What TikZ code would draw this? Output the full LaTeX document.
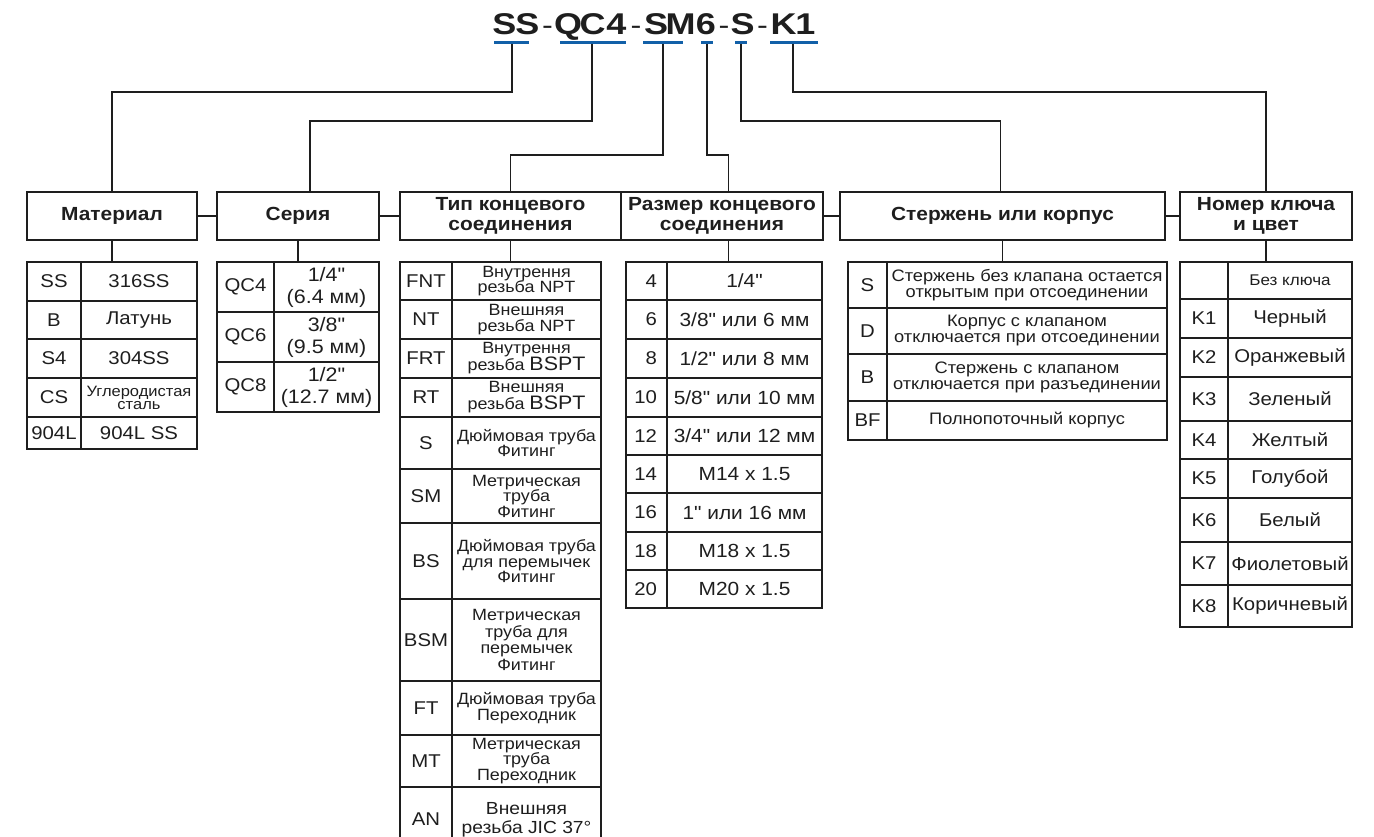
\documentclass[tikz,border=0pt]{standalone}
\usepackage{fontspec}
\setmainfont{Liberation Sans}[FakeStretch=1.1, Ligatures=TeXOff]
\newfontfamily\titlefont{Liberation Sans}[FakeStretch=1.2]
\usetikzlibrary{calc}
\definecolor{ublue}{RGB}{18,96,168}
\definecolor{ink}{RGB}{30,30,30}
\newcommand\fsz[2]{\fontsize{#1}{#2}\selectfont}
\newcommand\inch{\char34\relax}
\tikzset{
  box/.style={draw=ink, line width=1.3pt, inner sep=0pt, outer sep=0pt, text=ink, align=center},
  conn/.style={draw=ink, line width=1.4pt},
  uline/.style={draw=ublue, line width=3.6pt},
  tch/.style={anchor=base, inner sep=0pt, text=ink, font=\titlefont\bfseries\fsz{30}{30}},
  tdash/.style={tch, font=\titlefont\fsz{27}{27}},
}
% name, x1, y1, x2, y2, font, text
\newcommand\cell[7]{%
  \node[box, font=#6, minimum width={(#4-#2)*1pt}, minimum height={(#5-#3)*1pt}]
    (#1) at ({(#2+#4)/2},{(#3+#5)/2}) {#7};}
\newcommand\rcode[1]{\hbox to 21pt{\hss #1}}
\begin{document}
\begin{tikzpicture}[x=1pt,y=-1pt]
\useasboundingbox (0,0) rectangle (1374,837);
% ---------- title ----------
\node[tch] (t1) at (504.5,35) {S};
\node[tch] (t2) at (527.5,35) {S};
\node[tdash] (t3) at (547.5,35) {-};
\node[tch] (t4) at (568,35) {Q};
\node[tch] (t5) at (592.5,35) {C};
\node[tch] (t6) at (616.5,35) {4};
\node[tdash] (t7) at (636,35) {-};
\node[tch] (t8) at (656,35) {S};
\node[tch] (t9) at (680.5,35) {M};
\node[tch] (t10) at (706,35) {6};
\node[tdash] (t11) at (724,35) {-};
\node[tch] (t12) at (742.5,35) {S};
\node[tdash] (t13) at (762.5,35) {-};
\node[tch] (t14) at (783.5,35) {K};
\node[tch] (t15) at (805.5,35) {1};
% underlines
\draw[uline] (494,42.5) -- (529,42.5);
\draw[uline] (560,42.5) -- (626,42.5);
\draw[uline] (643,42.5) -- (683,42.5);
\draw[uline] (701,42.5) -- (713,42.5);
\draw[uline] (735,42.5) -- (747,42.5);
\draw[uline] (770,42.5) -- (818,42.5);
\coordinate (u1) at (512,44);
\coordinate (u2) at (592,44);
\coordinate (u3) at (663,44);
\coordinate (u4) at (707,44);
\coordinate (u5) at (741,44);
\coordinate (u6) at (793,44);
% ---------- headers ----------
\def\hf{\bfseries\fsz{19}{20}}
\cell{mat}{27}{192}{197}{240}{\hf}{Материал}
\cell{ser}{217}{192}{379}{240}{\hf}{Серия}
\cell{tip}{400}{192}{621}{240}{\hf}{Тип концевого\\соединения}
\cell{raz}{621}{192}{823}{240}{\hf}{Размер концевого\\соединения}
\cell{ste}{840}{192}{1165}{240}{\hf}{Стержень или корпус}
\cell{nom}{1180}{192}{1352}{240}{\hf}{Номер ключа\\и цвет}
% connectors title -> headers
\draw[conn] (u1) -- ++(0,48) -| (mat.north);
\draw[conn] (u2) -- ++(0,77) -| ([xshift=12pt]ser.north);
\draw[conn] (u3) -- ++(0,111) -| (tip.north);
\draw[conn] (u4) -- ++(0,111) -| ([xshift=6.5pt]raz.north);
\draw[conn] (u5) -- ++(0,77) -| ([xshift=-2pt]ste.north);
\draw[conn] (u6) -- ++(0,48) -| (nom.north);
% connectors between headers
\draw[conn] (mat.east) -- (ser.west);
\draw[conn] (ser.east) -- (tip.west);
\draw[conn] (raz.east) -- (ste.west);
\draw[conn] (ste.east) -- (nom.west);
% ---------- Material table ----------
\def\cf{\fsz{18.5}{20}}
\cell{m1a}{27}{262}{81}{301}{\cf}{SS}
\cell{m1b}{81}{262}{197}{301}{\cf}{316SS}
\cell{m2a}{27}{301}{81}{339}{\cf}{B}
\cell{m2b}{81}{301}{197}{339}{\cf}{Латунь}
\cell{m3a}{27}{339}{81}{378}{\cf}{S4}
\cell{m3b}{81}{339}{197}{378}{\cf}{304SS}
\cell{m4a}{27}{378}{81}{417}{\cf}{CS}
\cell{m4b}{81}{378}{197}{417}{\fsz{15}{13}}{Углеродистая\\сталь}
\cell{m5a}{27}{417}{81}{449}{\cf}{904L}
\cell{m5b}{81}{417}{197}{449}{\cf}{904L SS}
\draw[conn] (mat.south) -- (mat.south |- m1a.north);
% ---------- Series table ----------
\def\sf{\fsz{19.5}{22}}
\cell{s1a}{217}{262}{274}{312}{\cf}{QC4}
\cell{s1b}{274}{262}{379}{312}{\sf}{1/4\inch\\(6.4 мм)}
\cell{s2a}{217}{312}{274}{362}{\cf}{QC6}
\cell{s2b}{274}{312}{379}{362}{\sf}{3/8\inch\\(9.5 мм)}
\cell{s3a}{217}{362}{274}{412}{\cf}{QC8}
\cell{s3b}{274}{362}{379}{412}{\sf}{1/2\inch\\(12.7 мм)}
\draw[conn] (ser.south) -- (ser.south |- s1a.north);
% ---------- End connection type ----------
\def\df{\fsz{16.3}{15.5}}
\def\dfb{\fsz{16.3}{17}}
\cell{p1a}{400}{262}{452}{300}{\cf}{FNT}
\cell{p1b}{452}{262}{601}{300}{\df}{Внутрення\\резьба NPT}
\cell{p2a}{400}{300}{452}{339}{\cf}{NT}
\cell{p2b}{452}{300}{601}{339}{\df}{Внешняя\\резьба NPT}
\cell{p3a}{400}{339}{452}{378}{\cf}{FRT}
\cell{p3b}{452}{339}{601}{378}{\dfb}{Внутрення\\резьба {\fsz{19.5}{17}BSPT}}
\cell{p4a}{400}{378}{452}{417}{\cf}{RT}
\cell{p4b}{452}{378}{601}{417}{\dfb}{Внешняя\\резьба {\fsz{19.5}{17}BSPT}}
\cell{p5a}{400}{417}{452}{469}{\cf}{S}
\cell{p5b}{452}{417}{601}{469}{\df}{Дюймовая труба\\Фитинг}
\cell{p6a}{400}{469}{452}{523}{\cf}{SM}
\cell{p6b}{452}{469}{601}{523}{\df}{Метрическая\\труба\\Фитинг}
\cell{p7a}{400}{523}{452}{599}{\cf}{BS}
\cell{p7b}{452}{523}{601}{599}{\df}{Дюймовая труба\\для перемычек\\Фитинг}
\cell{p8a}{400}{599}{452}{681}{\cf}{BSM}
\cell{p8b}{452}{599}{601}{681}{\fsz{16.3}{16.5}}{Метрическая\\труба для\\перемычек\\Фитинг}
\cell{p9a}{400}{681}{452}{735}{\cf}{FT}
\cell{p9b}{452}{681}{601}{735}{\df}{Дюймовая труба\\Переходник}
\cell{p10a}{400}{735}{452}{787}{\cf}{MT}
\cell{p10b}{452}{735}{601}{787}{\df}{Метрическая\\труба\\Переходник}
\cell{p11a}{400}{787}{452}{852}{\cf}{AN}
\cell{p11b}{452}{787}{601}{852}{\fsz{17.5}{19}}{Внешняя\\резьба JIC 37°}
\draw[conn] (tip.south) -- (tip.south |- p1a.north);
% ---------- End connection size ----------
\def\zf{\fsz{19}{20}}
\cell{r1a}{626}{262}{667}{300}{\cf}{\rcode{4}}
\cell{r1b}{667}{262}{822}{300}{\zf}{1/4\inch}
\cell{r2a}{626}{300}{667}{339}{\cf}{\rcode{6}}
\cell{r2b}{667}{300}{822}{339}{\zf}{3/8\inch{} или 6 мм}
\cell{r3a}{626}{339}{667}{378}{\cf}{\rcode{8}}
\cell{r3b}{667}{339}{822}{378}{\zf}{1/2\inch{} или 8 мм}
\cell{r4a}{626}{378}{667}{417}{\cf}{\rcode{10}}
\cell{r4b}{667}{378}{822}{417}{\zf}{5/8\inch{} или 10 мм}
\cell{r5a}{626}{417}{667}{455}{\cf}{\rcode{12}}
\cell{r5b}{667}{417}{822}{455}{\zf}{3/4\inch{} или 12 мм}
\cell{r6a}{626}{455}{667}{493}{\cf}{\rcode{14}}
\cell{r6b}{667}{455}{822}{493}{\zf}{M14 x 1.5}
\cell{r7a}{626}{493}{667}{532}{\cf}{\rcode{16}}
\cell{r7b}{667}{493}{822}{532}{\zf}{1\inch{} или 16 мм}
\cell{r8a}{626}{532}{667}{570}{\cf}{\rcode{18}}
\cell{r8b}{667}{532}{822}{570}{\zf}{M18 x 1.5}
\cell{r9a}{626}{570}{667}{608}{\cf}{\rcode{20}}
\cell{r9b}{667}{570}{822}{608}{\zf}{M20 x 1.5}
\draw[conn] ([xshift=6.5pt]raz.south) -- ([xshift=6.5pt]raz.south |- r1a.north);
% ---------- Stem or body ----------
\def\ef{\fsz{16.6}{16}}
\cell{b1a}{848}{262}{887}{308}{\cf}{S}
\cell{b1b}{887}{262}{1167}{308}{\ef}{Стержень без клапана остается\\открытым при отсоединении}
\cell{b2a}{848}{308}{887}{354}{\cf}{D}
\cell{b2b}{887}{308}{1167}{354}{\ef}{Корпус с клапаном\\отключается при отсоединении}
\cell{b3a}{848}{354}{887}{401}{\cf}{B}
\cell{b3b}{887}{354}{1167}{401}{\ef}{Стержень с клапаном\\отключается при разъединении}
\cell{b4a}{848}{401}{887}{440}{\cf}{BF}
\cell{b4b}{887}{401}{1167}{440}{\ef}{Полнопоточный корпус}
\draw[conn] (ste.south) -- (ste.south |- b1a.north);
% ---------- Key number and colour ----------
\cell{k0a}{1180}{262}{1228}{299}{\cf}{}
\cell{k0b}{1228}{262}{1352}{299}{\fsz{15.5}{16}}{Без ключа}
\cell{k1a}{1180}{299}{1228}{338}{\cf}{K1}
\cell{k1b}{1228}{299}{1352}{338}{\cf}{Черный}
\cell{k2a}{1180}{338}{1228}{377}{\cf}{K2}
\cell{k2b}{1228}{338}{1352}{377}{\cf}{Оранжевый}
\cell{k3a}{1180}{377}{1228}{421}{\cf}{K3}
\cell{k3b}{1228}{377}{1352}{421}{\cf}{Зеленый}
\cell{k4a}{1180}{421}{1228}{459}{\cf}{K4}
\cell{k4b}{1228}{421}{1352}{459}{\cf}{Желтый}
\cell{k5a}{1180}{459}{1228}{498}{\cf}{K5}
\cell{k5b}{1228}{459}{1352}{498}{\cf}{Голубой}
\cell{k6a}{1180}{498}{1228}{542}{\cf}{K6}
\cell{k6b}{1228}{498}{1352}{542}{\cf}{Белый}
\cell{k7a}{1180}{542}{1228}{585}{\cf}{K7}
\cell{k7b}{1228}{542}{1352}{585}{\cf}{Фиолетовый}
\cell{k8a}{1180}{585}{1228}{627}{\cf}{K8}
\cell{k8b}{1228}{585}{1352}{627}{\cf}{Коричневый}
\draw[conn] (nom.south) -- (nom.south |- k0a.north);
\end{tikzpicture}
\end{document}
